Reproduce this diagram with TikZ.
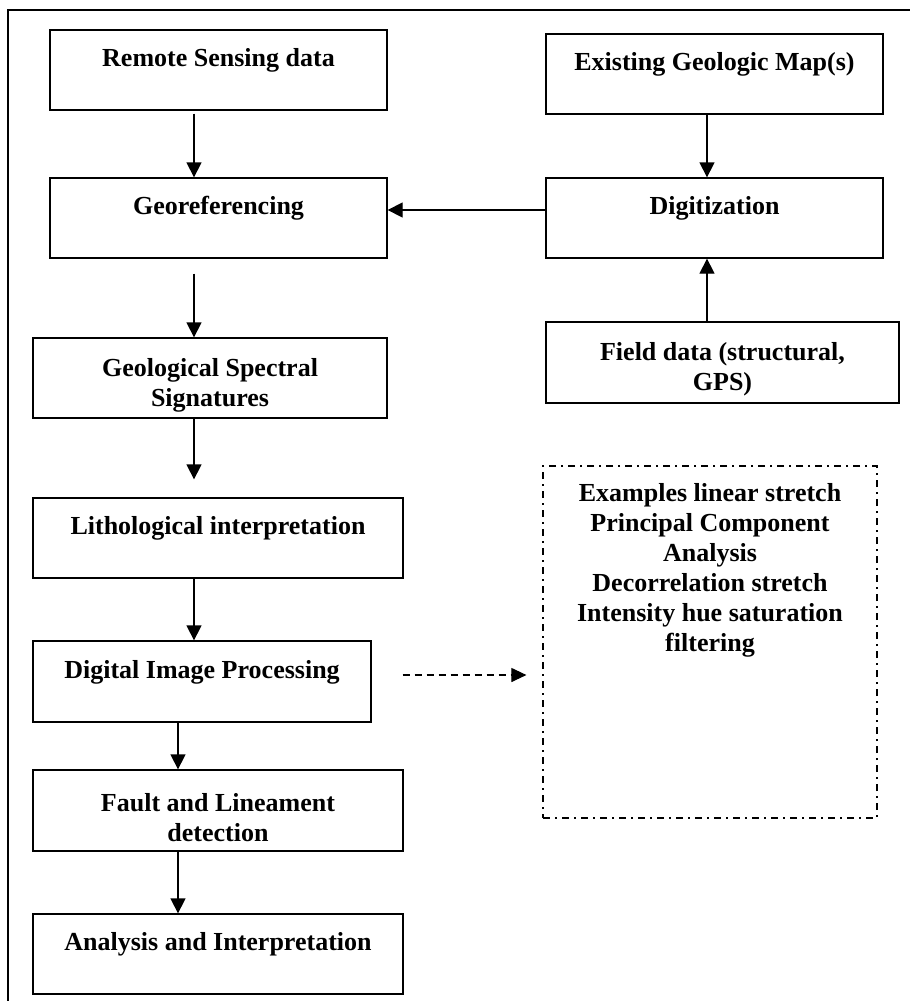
\documentclass[tikz,border=0pt]{standalone}
\usepackage{fontspec}
\setmainfont{Liberation Serif}
\usetikzlibrary{arrows.meta}
\newcommand\tstr{\rule{0pt}{32pt}}
\begin{document}
\begin{tikzpicture}[x=1pt,y=-1pt,
  box/.style={draw, line width=1.3pt, align=center, inner sep=0pt,
    font=\fontsize{26}{30}\selectfont\bfseries, minimum height=80pt},
  dashbox/.style={draw, line width=1.2pt, inner sep=0pt,
    dash pattern=on 7pt off 5pt on 2pt off 5pt,
    font=\fontsize{26}{30}\selectfont\bfseries},
  arr/.style={line width=1.3pt, -{Triangle[width=15pt,length=15pt]}},
  dasharr/.style={line width=1.1pt, dash pattern=on 7pt off 5pt, -{Triangle[width=14pt,length=15pt]}},
  frame/.style={line width=1.3pt}
]
\useasboundingbox (0,0) rectangle (910,1001);
\draw[frame] (8,1001) -- (8,10) -- (910,10);

\node[box, minimum width=337pt] (rs) at (218.5,70) {\tstr Remote Sensing data\\\strut};
\node[box, minimum width=337pt] (geo) at (218.5,218) {\tstr Georeferencing\\\strut};
\node[box, minimum width=337pt] (ex) at (714.5,74) {\tstr Existing Geologic Map(s)\\\strut};
\node[box, minimum width=337pt] (dig) at (714.5,218) {\tstr Digitization\\\strut};
\node[box, minimum width=353pt, minimum height=81pt] (fd) at (722.5,362.5) {\tstr Field data (structural,\\GPS)};
\node[box, minimum width=354pt] (gss) at (210,378) {\tstr Geological Spectral\\Signatures};
\node[box, minimum width=370pt] (lith) at (218,538) {\tstr Lithological interpretation\\\strut};
\node[box, minimum width=338pt, minimum height=81pt] (dip) at (202,681.5) {\tstr Digital Image Processing\\\strut};
\node[box, minimum width=370pt, minimum height=81pt] (fl) at (218,810.5) {\tstr Fault and Lineament\\detection};
\node[box, minimum width=370pt] (an) at (218,954) {\tstr Analysis and Interpretation\\\strut};

\node[dashbox, minimum width=334pt] (exb) at (710,642)
  {\parbox[c][352pt][t]{330pt}{\centering\vspace*{14pt}\strut Examples linear stretch\\
   Principal Component\\ Analysis\\ Decorrelation stretch\\ Intensity hue saturation\\ filtering}};

\draw[arr] ([xshift=-24.5pt,yshift=-3pt]rs.south) -- ([xshift=-24.5pt]geo.north);
\draw[arr] ([xshift=-24.5pt,yshift=-15pt]geo.south) -- ([xshift=-16pt]gss.north);
\draw[arr] ([xshift=-16pt]gss.south) -- ([xshift=-24pt,yshift=18pt]lith.north);
\draw[arr] ([xshift=-24pt]lith.south) -- ([xshift=-8pt]dip.north);
\draw[arr] ([xshift=-24pt]dip.south) -- ([xshift=-40pt]fl.north);
\draw[arr] ([xshift=-40pt]fl.south) -- ([xshift=-40pt]an.north);
\draw[arr] ([xshift=-7.5pt]ex.south) -- ([xshift=-7.5pt]dig.north);
\draw[arr] ([xshift=-15.5pt]fd.north) -- ([xshift=-7.5pt]dig.south);
\draw[arr] ([yshift=8pt]dig.west) -- ([yshift=8pt]geo.east);
\draw[dasharr] ([xshift=31pt,yshift=6.5pt]dip.east) -- ([xshift=-16pt,yshift=-33pt]exb.west);
\end{tikzpicture}
\end{document}
